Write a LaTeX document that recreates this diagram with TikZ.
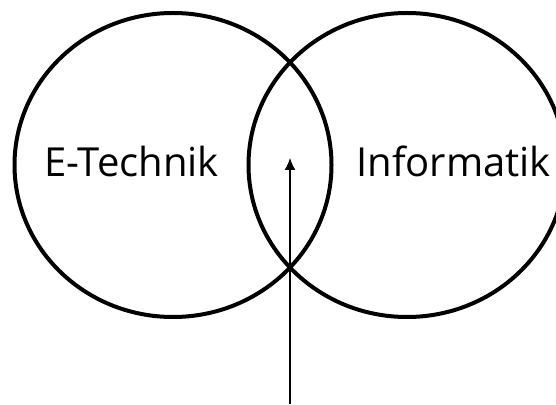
\documentclass[tikz,border=0pt]{standalone}
\usepackage{fontspec}
\setmainfont{Open Sans}
\usetikzlibrary{arrows.meta}

\begin{document}
\begin{tikzpicture}[x=1pt,y=1pt,
  set/.style={line width=4pt},
  setname/.style={font=\fontsize{40}{48}\selectfont,anchor=base,inner sep=0pt}]
\clip (0,0) rectangle (556,404);
% Mengen
\draw[set] (173,239) ellipse [x radius=158.5,y radius=152];
\draw[set] (407,239) ellipse [x radius=158.5,y radius=152];
\node[setname] (ET) at (131.5,227) {E-Technik};
\node[setname] (IN) at (453.5,227) {Informatik};
% Schnittmenge
\coordinate (S) at (290,246);
\coordinate (Fuss) at (290,0);
\draw[line width=1.3pt,-{Latex[length=12pt,width=11pt]}] (Fuss) -- (S);
\end{tikzpicture}
\end{document}
